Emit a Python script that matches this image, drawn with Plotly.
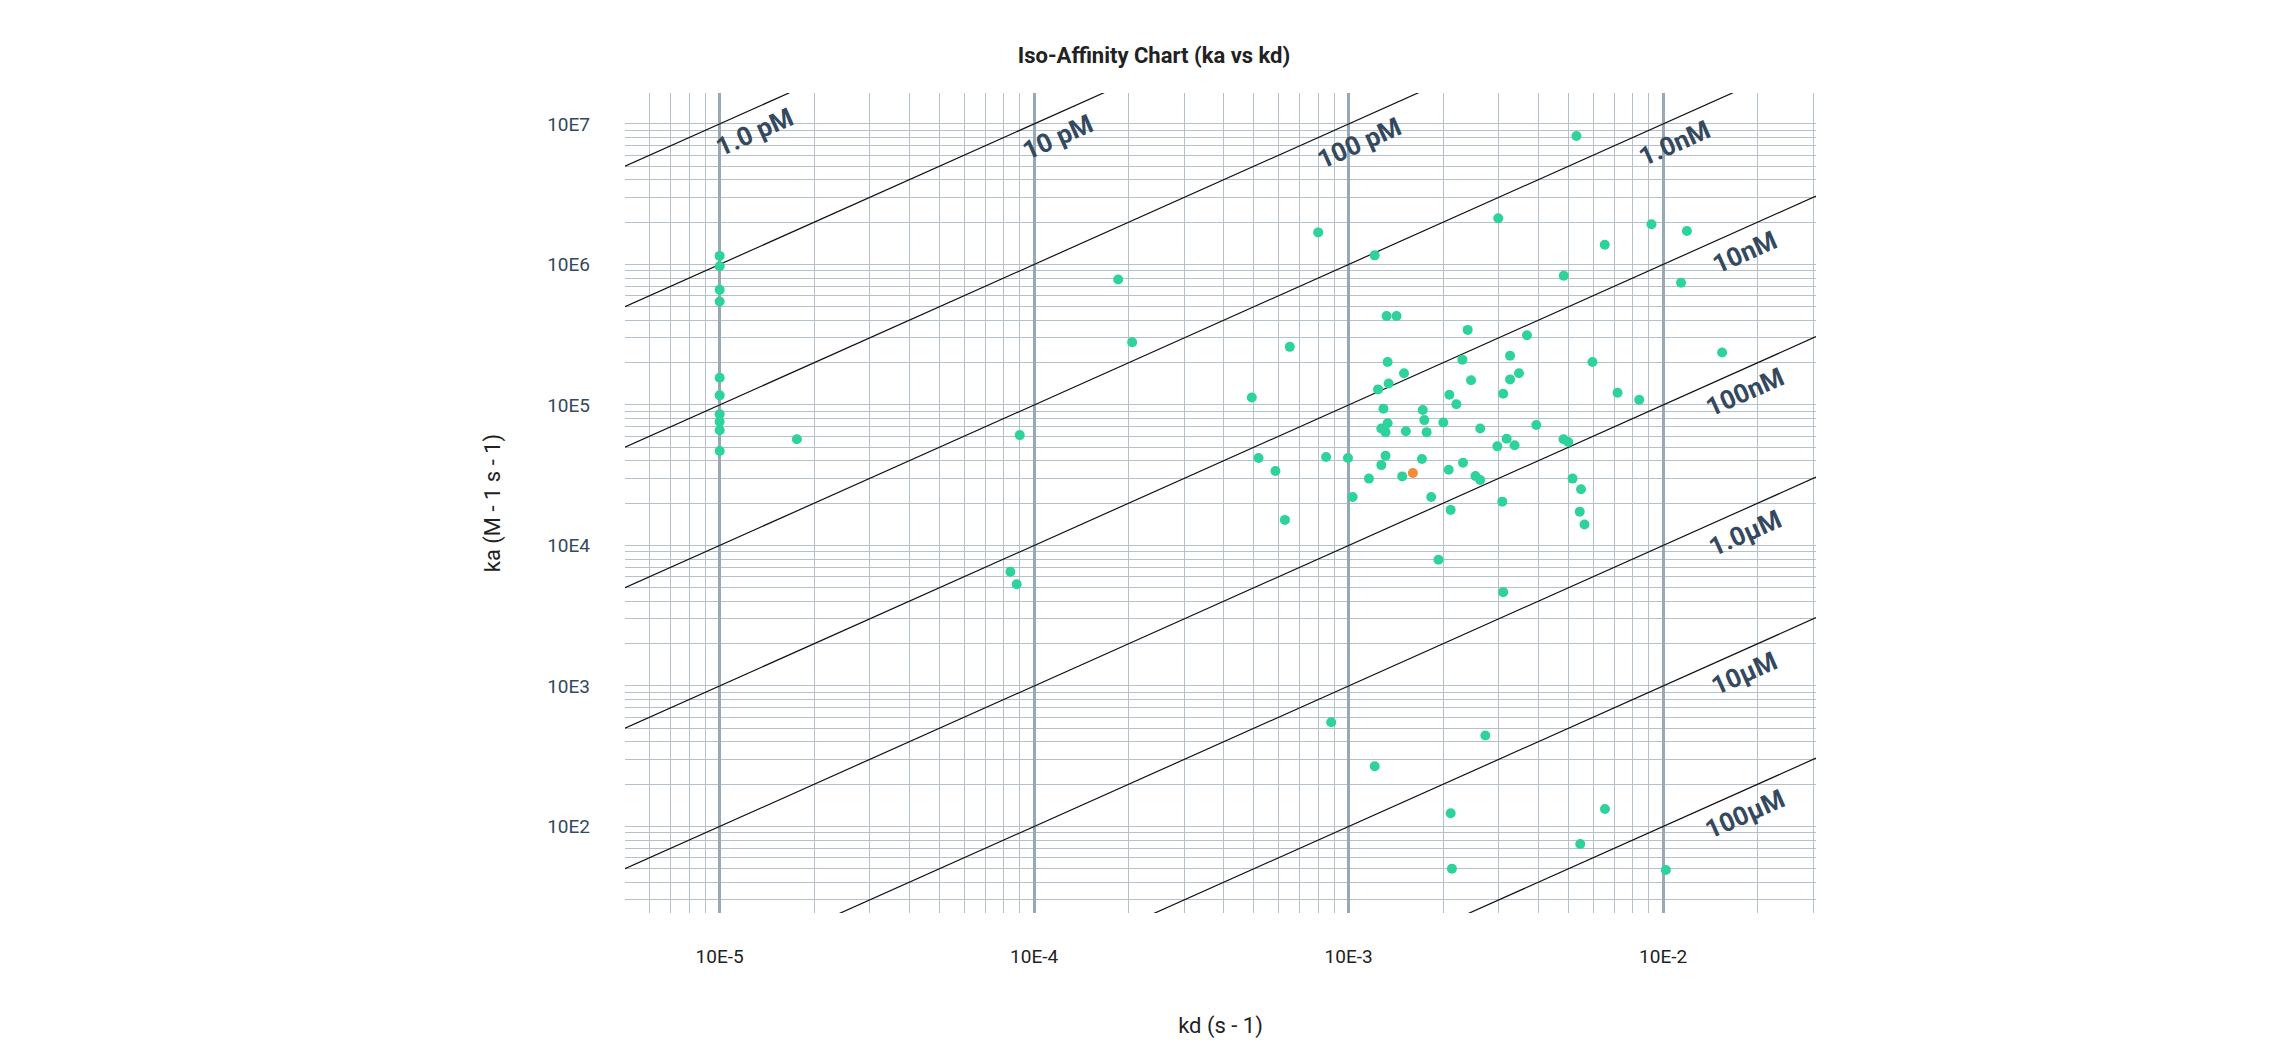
import numpy as np
import plotly.graph_objects as go

# binding data
kd_vals = [8.0e-4, 1.21e-3, 2.99e-3, 9.18e-3, 1.19e-2, 6.52e-3, 4.83e-3, 1.14e-2, 1.32e-3, 1.42e-3,
           2.39e-3, 6.5e-4, 3.69e-3, 1.54e-2, 1.33e-3, 2.30e-3, 3.26e-3, 5.96e-3, 1.50e-3, 3.48e-3,
           2.45e-3, 3.26e-3, 1.34e-3, 1.24e-3, 4.92e-4, 7.16e-3, 8.39e-3, 2.09e-3, 3.10e-3, 2.20e-3,
           1.29e-3, 1.72e-3, 1.74e-3, 2.00e-3, 1.33e-3, 1.27e-3, 1.31e-3, 1.52e-3, 1.77e-3, 2.62e-3,
           3.95e-3, 3.18e-3, 2.97e-3, 3.37e-3, 4.82e-3, 4.99e-3, 5.17e-4, 5.85e-4, 8.48e-4, 9.95e-4,
           1.31e-3, 1.27e-3, 1.71e-3, 1.16e-3, 1.48e-3, 2.08e-3, 2.31e-3, 2.53e-3, 2.62e-3,
           5.15e-3, 5.48e-3, 1.03e-3, 1.83e-3, 3.08e-3, 2.11e-3, 5.43e-3, 5.62e-3, 6.27e-4, 1.93e-3,
           3.10e-3, 5.3e-3, 1e-5, 1e-5, 1e-5, 1e-5, 1e-5, 1e-5, 1e-5, 1e-5, 1e-5, 1e-5, 1.76e-5,
           1.85e-4, 2.05e-4, 9.0e-5, 8.4e-5, 8.8e-5, 8.8e-4, 1.21e-3, 2.72e-3, 2.11e-3, 2.13e-3,
           6.53e-3, 5.45e-3, 1.02e-2]
ka_vals = [1.69e6, 1.16e6, 2.13e6, 1.93e6, 1.73e6, 1.38e6, 8.3e5, 7.4e5, 4.3e5, 4.3e5,
           3.42e5, 2.59e5, 3.13e5, 2.36e5, 2.02e5, 2.10e5, 2.24e5, 2.02e5, 1.68e5, 1.68e5,
           1.50e5, 1.52e5, 1.42e5, 1.29e5, 1.13e5, 1.22e5, 1.09e5, 1.18e5, 1.20e5, 1.01e5,
           9.4e4, 9.2e4, 7.8e4, 7.5e4, 7.4e4, 6.8e4, 6.4e4, 6.5e4, 6.4e4, 6.8e4,
           7.2e4, 5.75e4, 5.07e4, 5.16e4, 5.69e4, 5.45e4, 4.19e4, 3.39e4, 4.26e4, 4.19e4,
           4.35e4, 3.73e4, 4.12e4, 2.99e4, 3.10e4, 3.46e4, 3.88e4, 3.12e4, 2.92e4,
           2.99e4, 2.51e4, 2.21e4, 2.21e4, 2.05e4, 1.79e4, 1.74e4, 1.41e4, 1.52e4, 7.9e3,
           4.65e3, 8.2e6, 1.15e6, 9.7e5, 6.6e5, 5.45e5, 1.56e5, 1.17e5, 8.6e4, 7.6e4, 6.6e4, 4.7e4, 5.7e4,
           7.8e5, 2.79e5, 6.1e4, 6.5e3, 5.3e3, 551, 268, 444, 124, 50,
           133, 75, 49]

highlight_kd = [1.60e-3]
highlight_ka = [3.28e4]

# iso-affinity lines (KD in M) and where their labels sit along kd
iso_kd = [1e-12, 1e-11, 1e-10, 1e-9, 1e-8, 1e-7, 1e-6, 1e-5, 1e-4]
iso_labels = ["1.0 pM", "10 pM", "100 pM", "1.0nM", "10nM", "100nM", "1.0µM", "10µM", "100µM"]
label_kd = [1.29e-5, 1.19e-4, 1.08e-3, 1.09e-2, 1.82e-2, 1.82e-2, 1.82e-2, 1.82e-2, 1.82e-2]

x_range = [-5.301, -1.514]
y_range = [1.384, 7.22]
x_ticks = [1e-5, 1e-4, 1e-3, 1e-2]
x_text = ["10E-5", "10E-4", "10E-3", "10E-2"]
y_ticks = [1e2, 1e3, 1e4, 1e5, 1e6, 1e7]
y_text = ["10E2", "10E3", "10E4", "10E5", "10E6", "10E7"]

text_col = "#34495e"
grid_col = "#b4c0cb"

fig = go.Figure()

xs = np.array([10 ** x_range[0], 10 ** x_range[1]])
for kd_line in iso_kd:
    fig.add_trace(go.Scatter(x=xs, y=xs / kd_line, mode="lines",
                             line=dict(color="#111", width=1.2), hoverinfo="skip", showlegend=False))

fig.add_trace(go.Scatter(x=kd_vals, y=ka_vals, mode="markers",
                         marker=dict(color="#2dd39b", size=10), showlegend=False))
fig.add_trace(go.Scatter(x=highlight_kd, y=highlight_ka, mode="markers",
                         marker=dict(color="#f28c38", size=10), showlegend=False))

for lab, kx, kline in zip(iso_labels, label_kd, iso_kd):
    fig.add_annotation(x=np.log10(kx), y=np.log10(kx / kline), text="<b>%s</b>" % lab,
                       showarrow=False, textangle=-24, yshift=-24,
                       font=dict(size=26, color=text_col))

fig.update_xaxes(type="log", range=x_range, tickvals=x_ticks, ticktext=x_text,
                 showgrid=True, gridcolor="#97a8b6", gridwidth=3, zeroline=False,
                 showline=False, ticks="", ticklabelstandoff=30,
                 minor=dict(dtick="D1", showgrid=True, gridcolor=grid_col, gridwidth=1.3),
                 tickfont=dict(size=19, color="#222"),
                 title=dict(text="kd (s - 1)", font=dict(size=22, color="#222"), standoff=50))
fig.update_yaxes(type="log", range=y_range, tickvals=y_ticks, ticktext=y_text,
                 showgrid=True, gridcolor=grid_col, gridwidth=1.3, zeroline=False,
                 showline=False, ticks="", ticklabelstandoff=34,
                 minor=dict(dtick="D1", showgrid=True, gridcolor=grid_col, gridwidth=1.3),
                 tickfont=dict(size=19, color=text_col),
                 title=dict(text="ka (M - 1 s - 1)", font=dict(size=22, color="#222"), standoff=40))

fig.update_layout(
    width=2292, height=1040,
    margin=dict(l=617, r=484, t=85, b=135),
    plot_bgcolor="white", paper_bgcolor="white",
    font=dict(family="Roboto, sans-serif"),
    title=dict(text="<b>Iso-Affinity Chart (ka vs kd)</b>", x=0.5, xanchor="center", y=0.962,
               font=dict(size=22, color="#222")),
)

fig.write_html("out.html")
